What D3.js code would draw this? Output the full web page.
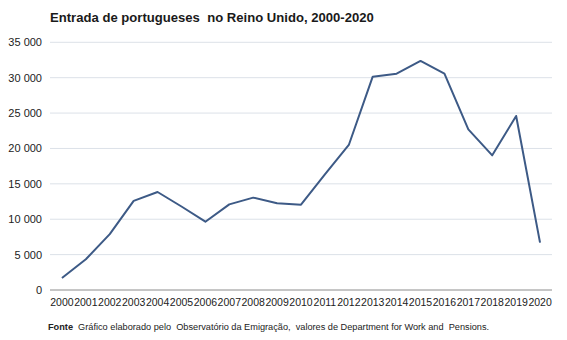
<!DOCTYPE html>
<html>
<head>
<meta charset="utf-8">
<script src="https://cdn.jsdelivr.net/npm/d3@7"></script>
<style>
  html, body { margin: 0; padding: 0; background: #fff; }
  svg { display: block; font-family: "Liberation Sans", Arial, sans-serif; }
</style>
</head>
<body>
<svg id="chart" width="567" height="340"></svg>
<script>
// Entradas anuais de portugueses no Reino Unido (registos NINo)
const years = ["2000","2001","2002","2003","2004","2005","2006","2007","2008","2009","2010",
               "2011","2012","2013","2014","2015","2016","2017","2018","2019","2020"];
const entries = [1700, 4340, 7900, 12600, 13850, 11800, 9650, 12100, 13050, 12250, 12060,
                 16350, 20490, 30140, 30570, 32360, 30570, 22700, 19030, 24590, 6690];
const yTicks = [0, 5000, 10000, 15000, 20000, 25000, 30000, 35000];

const titleText = "Entrada de portugueses  no Reino Unido, 2000-2020";

const svg = d3.select("#chart");

const x = d3.scaleBand().domain(years).range([50, 552]);
const y = d3.scaleLinear().domain([0, 35000]).range([290, 42.3]);

const fmt = v => v === 0 ? "0" : d3.format(",")(v).replace(/,/g, " ");

// title
svg.append("text")
  .attr("x", 50).attr("y", 22)
  .attr("font-size", 13.1).attr("font-weight", "bold").attr("fill", "#1a1a1a")
  .attr("xml:space", "preserve")
  .text(titleText);

// horizontal gridlines
svg.append("g").selectAll("line")
  .data(yTicks.filter(d => d > 0))
  .join("line")
  .attr("x1", x.range()[0]).attr("x2", x.range()[1])
  .attr("y1", d => y(d)).attr("y2", d => y(d))
  .attr("stroke", "#dce1e8").attr("stroke-width", 1);

// y axis labels
const yAxis = d3.axisLeft(y).tickValues(yTicks).tickFormat(fmt).tickSize(0).tickPadding(0);
const gy = svg.append("g").attr("transform", "translate(42,0)").call(yAxis);
gy.select(".domain").remove();
gy.selectAll("text").attr("font-size", 11).attr("fill", "#222")
  .attr("font-family", "Liberation Sans, Arial, sans-serif");

// baseline
svg.append("line")
  .attr("x1", x.range()[0]).attr("x2", x.range()[1])
  .attr("y1", y(0)).attr("y2", y(0))
  .attr("stroke", "#8c8c8c").attr("stroke-width", 1);

// x axis labels
const xAxis = d3.axisBottom(x).tickSize(0).tickPadding(0);
const gx = svg.append("g").attr("transform", `translate(0,${y(0) + 9})`).call(xAxis);
gx.select(".domain").remove();
gx.selectAll("text").attr("font-size", 10.5).attr("fill", "#222")
  .attr("font-family", "Liberation Sans, Arial, sans-serif");

// line
const line = d3.line()
  .x((d, i) => x(years[i]) + x.bandwidth() / 2)
  .y(d => y(d));
svg.append("path")
  .datum(entries)
  .attr("d", line)
  .attr("fill", "none")
  .attr("stroke", "#3d5a86")
  .attr("stroke-width", 2)
  .attr("stroke-linejoin", "round");

// source note
const note = svg.append("text").attr("x", 48).attr("y", 330)
  .attr("font-size", 9.2).attr("fill", "#222").attr("xml:space", "preserve");
note.append("tspan").attr("font-weight", "bold").text("Fonte");
note.append("tspan").text("  Gráfico elaborado pelo  Observatório da Emigração,  valores de Department for Work and  Pensions.");
</script>
</body>
</html>
